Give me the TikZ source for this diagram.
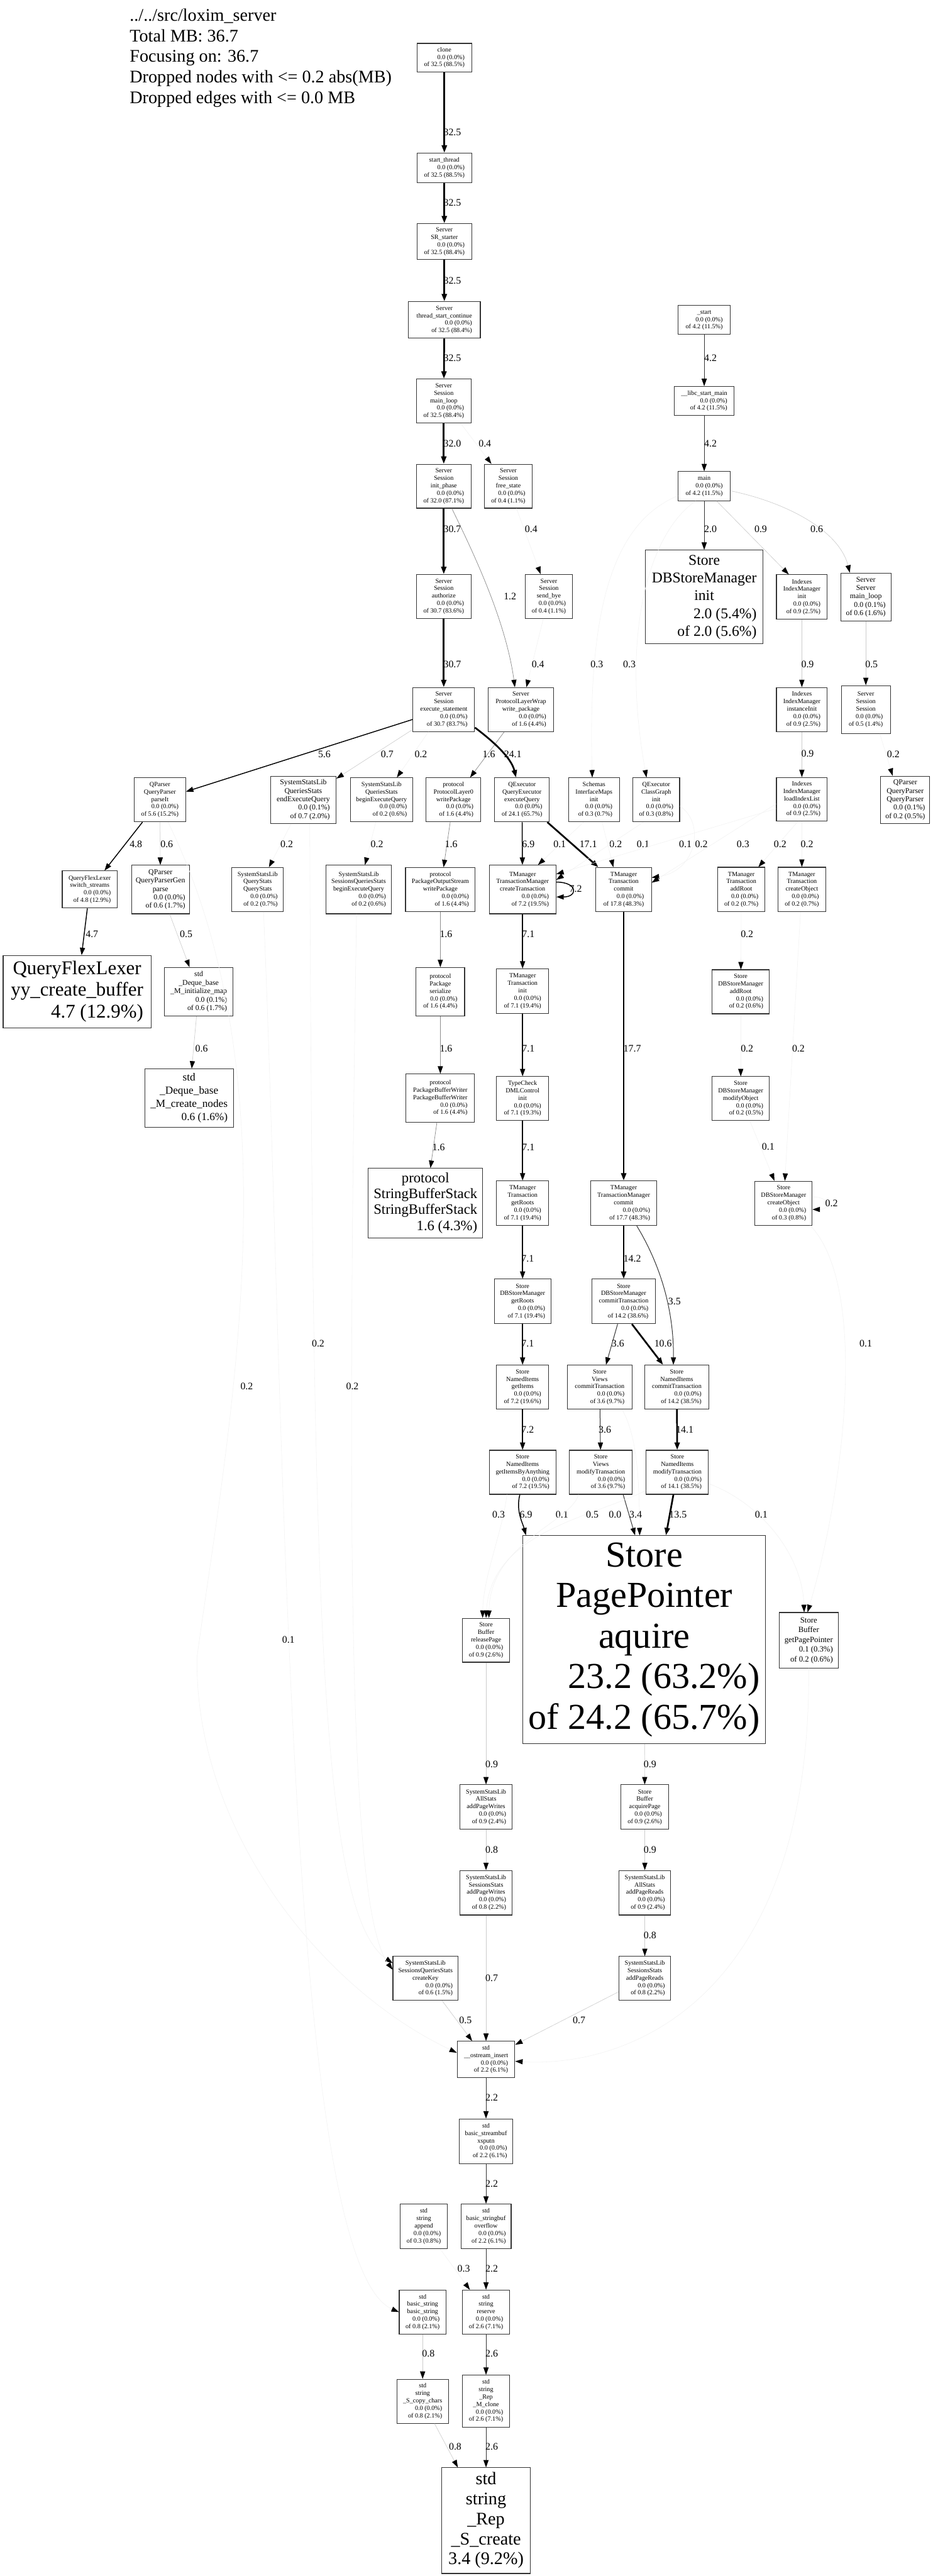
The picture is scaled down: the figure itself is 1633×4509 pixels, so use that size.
\documentclass[tikz,border=0pt]{standalone}
\usepackage{fontspec}
\setmainfont{Liberation Serif}
\usetikzlibrary{arrows.meta}

% call node: name lines, self, cumulative
\newcommand{\callnode}[3]{\begin{tabular}{@{}c@{}}#1\\\multicolumn{1}{@{}r@{}}{#2}\\\multicolumn{1}{@{}r@{}}{#3}\end{tabular}}
\newcommand{\leafnode}[2]{\begin{tabular}{@{}c@{}}#1\\\multicolumn{1}{@{}r@{}}{#2}\end{tabular}}

\begin{document}
\begin{tikzpicture}[x=1pt, y=-1pt,
  fn/.style 2 args={draw=black!80, line width=1.2pt, inner sep=0pt, minimum width=#1, minimum height=#2, font=\fontsize{11.2}{13}\selectfont},
  fm/.style={font=\fontsize{13}{14.7}\selectfont},
  elab/.style={inner sep=0pt, font=\fontsize{17.5}{20}\selectfont},
  arr/.style={-{Triangle[length=13pt,width=9pt,color=black]}},
  e1/.style={arr, line width=3pt, draw=black},
  e2/.style={arr, line width=1.6pt, draw=black},
  e3/.style={arr, line width=1.1pt, draw=black!80},
  e4/.style={arr, line width=0.8pt, draw=black!45},
  e5/.style={arr, line width=0.7pt, draw=black!20},
  e6/.style={arr, line width=0.6pt, draw=black!5}]
\useasboundingbox (0,0) rectangle (1633,4509);
\fill[white] (0,0) rectangle (1633,4509);

\node[anchor=north west, align=left, inner sep=0pt, font=\fontsize{31}{36}\selectfont] (title) at (227,15)
  {../../src/loxim\_server\\Total MB: 36.7\\Focusing on: 36.7\\Dropped nodes with <= 0.2 abs(MB)\\Dropped edges with <= 0.0 MB};

% server thread
\node[fn={96}{50}] (clone) at (778,101) {\callnode{clone}{0.0 (0.0\%)}{of 32.5 (88.5\%)}};
\node[fn={96}{52}] (startthr) at (778,294) {\callnode{start\_thread}{0.0 (0.0\%)}{of 32.5 (88.5\%)}};
\node[fn={96}{63}] (srstart) at (778,423) {\callnode{Server\\SR\_starter}{0.0 (0.0\%)}{of 32.5 (88.4\%)}};
\node[fn={126}{64}] (thrcont) at (778,560) {\callnode{Server\\thread\_start\_continue}{0.0 (0.0\%)}{of 32.5 (88.4\%)}};
\node[fn={96}{77}] (mainloop) at (777,702) {\callnode{Server\\Session\\main\_loop}{0.0 (0.0\%)}{of 32.5 (88.4\%)}};
\node[fn={96}{77}] (initph) at (777,851) {\callnode{Server\\Session\\init\_phase}{0.0 (0.0\%)}{of 32.0 (87.1\%)}};
\node[fn={83}{77}] (freest) at (890,851) {\callnode{Server\\Session\\free\_state}{0.0 (0.0\%)}{of 0.4 (1.1\%)}};
\node[fn={96}{77}] (authz) at (777,1044) {\callnode{Server\\Session\\authorize}{0.0 (0.0\%)}{of 30.7 (83.6\%)}};
\node[fn={82}{77}] (sendbye) at (961,1044) {\callnode{Server\\Session\\send\_bye}{0.0 (0.0\%)}{of 0.4 (1.1\%)}};
\node[fn={108}{77}] (execst) at (777,1242) {\callnode{Server\\Session\\execute\_statement}{0.0 (0.0\%)}{of 30.7 (83.7\%)}};
\node[fn={114}{77}] (wrpkg) at (912,1242) {\callnode{Server\\ProtocolLayerWrap\\write\_package}{0.0 (0.0\%)}{of 1.6 (4.4\%)}};

% main thread
\node[fn={91}{51}] (start) at (1233,560) {\callnode{\_start}{0.0 (0.0\%)}{of 4.2 (11.5\%)}};
\node[fn={104}{51}] (libcmain) at (1233,702) {\callnode{\_\_libc\_start\_main}{0.0 (0.0\%)}{of 4.2 (11.5\%)}};
\node[fn={91}{51}] (main) at (1233,851) {\callnode{main}{0.0 (0.0\%)}{of 4.2 (11.5\%)}};
\node[fn={206}{164}, font=\fontsize{26}{31}\selectfont] (dbinit) at (1233,1045) {\callnode{Store\\DBStoreManager\\init}{2.0 (5.4\%)}{of 2.0 (5.6\%)}};
\node[fn={89}{78}] (idxinit) at (1404,1045) {\callnode{Indexes\\IndexManager\\init}{0.0 (0.0\%)}{of 0.9 (2.5\%)}};
\node[fn={88}{84}, fm] (srvloop) at (1516,1045) {\callnode{Server\\Server\\main\_loop}{0.0 (0.1\%)}{of 0.6 (1.6\%)}};
\node[fn={89}{77}] (idxinst) at (1404,1242) {\callnode{Indexes\\IndexManager\\instanceInit}{0.0 (0.0\%)}{of 0.9 (2.5\%)}};
\node[fn={86}{84}] (sesssess) at (1516,1242) {\callnode{Server\\Session\\Session}{0.0 (0.0\%)}{of 0.5 (1.4\%)}};
\node[fn={89}{76}] (loadidx) at (1404,1399) {\callnode{Indexes\\IndexManager\\loadIndexList}{0.0 (0.0\%)}{of 0.9 (2.5\%)}};
\node[fn={86}{83}, fm] (qpctor) at (1585,1400) {\callnode{QParser\\QueryParser\\QueryParser}{0.0 (0.1\%)}{of 0.2 (0.5\%)}};

% statement execution
\node[fn={90}{77}] (parseit) at (280,1400) {\callnode{QParser\\QueryParser\\parseIt}{0.0 (0.0\%)}{of 5.6 (15.2\%)}};
\node[fn={115}{83}, fm] (endexec) at (531,1400) {\callnode{SystemStatsLib\\QueriesStats\\endExecuteQuery}{0.0 (0.1\%)}{of 0.7 (2.0\%)}};
\node[fn={109}{77}] (beginexec) at (668,1400) {\callnode{SystemStatsLib\\QueriesStats\\beginExecuteQuery}{0.0 (0.0\%)}{of 0.2 (0.6\%)}};
\node[fn={96}{77}] (pl0write) at (794,1400) {\callnode{protocol\\ProtocolLayer0\\writePackage}{0.0 (0.0\%)}{of 1.6 (4.4\%)}};
\node[fn={96}{77}] (execq) at (914,1400) {\callnode{QExecutor\\QueryExecutor\\executeQuery}{0.0 (0.0\%)}{of 24.1 (65.7\%)}};
\node[fn={89}{77}] (schinit) at (1040,1400) {\callnode{Schemas\\InterfaceMaps\\init}{0.0 (0.0\%)}{of 0.3 (0.7\%)}};
\node[fn={82}{77}] (cginit) at (1149,1400) {\callnode{QExecutor\\ClassGraph\\init}{0.0 (0.0\%)}{of 0.3 (0.8\%)}};

\node[fn={96}{65}] (switchst) at (157,1557) {\callnode{QueryFlexLexer\\switch\_streams}{0.0 (0.0\%)}{of 4.8 (12.9\%)}};
\node[fn={101}{85}, fm] (qpgparse) at (281,1557) {\callnode{QParser\\QueryParserGen\\parse}{0.0 (0.0\%)}{of 0.6 (1.7\%)}};
\node[fn={90}{77}] (qstats) at (451,1557) {\callnode{SystemStatsLib\\QueryStats\\QueryStats}{0.0 (0.0\%)}{of 0.2 (0.7\%)}};
\node[fn={115}{85}] (sqbegin) at (628,1557) {\callnode{SystemStatsLib\\SessionsQueriesStats\\beginExecuteQuery}{0.0 (0.0\%)}{of 0.2 (0.6\%)}};
\node[fn={122}{77}] (poswrite) at (771,1557) {\callnode{protocol\\PackageOutputStream\\writePackage}{0.0 (0.0\%)}{of 1.6 (4.4\%)}};
\node[fn={117}{85}] (createtr) at (915,1557) {\callnode{TManager\\TransactionManager\\createTransaction}{0.0 (0.0\%)}{of 7.2 (19.5\%)}};
\node[fn={97}{77}] (trcommit) at (1092,1557) {\callnode{TManager\\Transaction\\commit}{0.0 (0.0\%)}{of 17.8 (48.3\%)}};
\node[fn={83}{78}] (traddroot) at (1298,1557) {\callnode{TManager\\Transaction\\addRoot}{0.0 (0.0\%)}{of 0.2 (0.7\%)}};
\node[fn={83}{78}] (trcreateobj) at (1404,1557) {\callnode{TManager\\Transaction\\createObject}{0.0 (0.0\%)}{of 0.2 (0.7\%)}};

\node[fn={259}{127}, font=\fontsize{34}{38}\selectfont] (yybuf) at (135,1736) {\leafnode{QueryFlexLexer\\yy\_create\_buffer}{4.7 (12.9\%)}};
\node[fn={120}{85}, fm] (dqinit) at (348,1736) {\callnode{std\\\_Deque\_base\\\_M\_initialize\_map}{0.0 (0.1\%)}{of 0.6 (1.7\%)}};
\node[fn={85}{85}] (pkgser) at (771,1736) {\callnode{protocol\\Package\\serialize}{0.0 (0.0\%)}{of 1.6 (4.4\%)}};
\node[fn={91}{78}] (trinit) at (915,1735) {\callnode{TManager\\Transaction\\init}{0.0 (0.0\%)}{of 7.1 (19.4\%)}};
\node[fn={100}{77}] (dbaddroot) at (1297,1736) {\callnode{Store\\DBStoreManager\\addRoot}{0.0 (0.0\%)}{of 0.2 (0.6\%)}};

\node[fn={155}{102}, font=\fontsize{19}{23}\selectfont] (dqnodes) at (331,1922) {\leafnode{std\\\_Deque\_base\\\_M\_create\_nodes}{0.6 (1.6\%)}};
\node[fn={120}{84}] (pbwriter) at (771,1922) {\callnode{protocol\\PackageBufferWriter\\PackageBufferWriter}{0.0 (0.0\%)}{of 1.6 (4.4\%)}};
\node[fn={91}{77}] (dmlinit) at (915,1923) {\callnode{TypeCheck\\DMLControl\\init}{0.0 (0.0\%)}{of 7.1 (19.3\%)}};
\node[fn={100}{77}] (dbmodobj) at (1297,1923) {\callnode{Store\\DBStoreManager\\modifyObject}{0.0 (0.0\%)}{of 0.2 (0.5\%)}};

\node[fn={200}{122}, font=\fontsize{25}{28}\selectfont] (sbstack) at (745,2106) {\leafnode{protocol\\StringBufferStack\\StringBufferStack}{1.6 (4.3\%)}};
\node[fn={91}{78}] (trgetroots) at (915,2106) {\callnode{TManager\\Transaction\\getRoots}{0.0 (0.0\%)}{of 7.1 (19.4\%)}};
\node[fn={116}{78}] (tmcommit) at (1092,2106) {\callnode{TManager\\TransactionManager\\commit}{0.0 (0.0\%)}{of 17.7 (48.3\%)}};
\node[fn={100}{77}] (dbcreateobj) at (1372,2106) {\callnode{Store\\DBStoreManager\\createObject}{0.0 (0.0\%)}{of 0.3 (0.8\%)}};

% store layer
\node[fn={99}{78}] (dbgetroots) at (915,2278) {\callnode{Store\\DBStoreManager\\getRoots}{0.0 (0.0\%)}{of 7.1 (19.4\%)}};
\node[fn={112}{78}] (dbcommittr) at (1092,2278) {\callnode{Store\\DBStoreManager\\commitTransaction}{0.0 (0.0\%)}{of 14.2 (38.6\%)}};
\node[fn={91}{77}] (nigetitems) at (915,2428) {\callnode{Store\\NamedItems\\getItems}{0.0 (0.0\%)}{of 7.2 (19.6\%)}};
\node[fn={113}{77}] (vcommittr) at (1050,2428) {\callnode{Store\\Views\\commitTransaction}{0.0 (0.0\%)}{of 3.6 (9.7\%)}};
\node[fn={112}{77}] (nicommittr) at (1185,2428) {\callnode{Store\\NamedItems\\commitTransaction}{0.0 (0.0\%)}{of 14.2 (38.5\%)}};
\node[fn={117}{77}] (nigetany) at (915,2577) {\callnode{Store\\NamedItems\\getItemsByAnything}{0.0 (0.0\%)}{of 7.2 (19.5\%)}};
\node[fn={110}{77}] (vmodtr) at (1052,2577) {\callnode{Store\\Views\\modifyTransaction}{0.0 (0.0\%)}{of 3.6 (9.7\%)}};
\node[fn={109}{77}] (nimodtr) at (1186,2577) {\callnode{Store\\NamedItems\\modifyTransaction}{0.0 (0.0\%)}{of 14.1 (38.5\%)}};
\node[fn={425}{364}, font=\fontsize{64}{71}\selectfont] (ppacq) at (1128,2870) {\callnode{Store\\PagePointer\\aquire}{23.2 (63.2\%)}{of 24.2 (65.7\%)}};
\node[fn={83}{77}] (relpage) at (851,2871) {\callnode{Store\\Buffer\\releasePage}{0.0 (0.0\%)}{of 0.9 (2.6\%)}};
\node[fn={104}{97}, font=\fontsize{14}{17}\selectfont] (getpp) at (1416,2871) {\callnode{Store\\Buffer\\getPagePointer}{0.1 (0.3\%)}{of 0.2 (0.6\%)}};

% stats and strings
\node[fn={91}{78}] (aspw) at (851,3163) {\callnode{SystemStatsLib\\AllStats\\addPageWrites}{0.0 (0.0\%)}{of 0.9 (2.4\%)}};
\node[fn={83}{78}] (acqpage) at (1129,3163) {\callnode{Store\\Buffer\\acquirePage}{0.0 (0.0\%)}{of 0.9 (2.6\%)}};
\node[fn={91}{78}] (sspw) at (851,3313) {\callnode{SystemStatsLib\\SessionsStats\\addPageWrites}{0.0 (0.0\%)}{of 0.8 (2.2\%)}};
\node[fn={91}{78}] (aspr) at (1129,3313) {\callnode{SystemStatsLib\\AllStats\\addPageReads}{0.0 (0.0\%)}{of 0.9 (2.4\%)}};
\node[fn={114}{77}] (createkey) at (745,3463) {\callnode{SystemStatsLib\\SessionsQueriesStats\\createKey}{0.0 (0.0\%)}{of 0.6 (1.5\%)}};
\node[fn={91}{77}] (sspr) at (1129,3463) {\callnode{SystemStatsLib\\SessionsStats\\addPageReads}{0.0 (0.0\%)}{of 0.8 (2.2\%)}};
\node[fn={101}{64}] (ostrins) at (851,3605) {\callnode{std\\\_\_ostream\_insert}{0.0 (0.0\%)}{of 2.2 (6.1\%)}};
\node[fn={93}{78}] (xsputn) at (851,3748) {\callnode{std\\basic\_streambuf\\xsputn}{0.0 (0.0\%)}{of 2.2 (6.1\%)}};
\node[fn={83}{78}] (append) at (742,3897) {\callnode{std\\string\\append}{0.0 (0.0\%)}{of 0.3 (0.8\%)}};
\node[fn={88}{78}] (overflow) at (851,3897) {\callnode{std\\basic\_stringbuf\\overflow}{0.0 (0.0\%)}{of 2.2 (6.1\%)}};
\node[fn={82}{77}] (bsbs) at (740,4047) {\callnode{std\\basic\_string\\basic\_string}{0.0 (0.0\%)}{of 0.8 (2.1\%)}};
\node[fn={83}{77}] (reserve) at (851,4047) {\callnode{std\\string\\reserve}{0.0 (0.0\%)}{of 2.6 (7.1\%)}};
\node[fn={90}{77}] (copych) at (740,4203) {\callnode{std\\string\\\_S\_copy\_chars}{0.0 (0.0\%)}{of 0.8 (2.1\%)}};
\node[fn={83}{91}] (mclone) at (851,4203) {\callnode{std\\string\\\_Rep\\\_M\_clone}{0.0 (0.0\%)}{of 2.6 (7.1\%)}};
\node[fn={155}{185}, font=\fontsize{31}{35}\selectfont] (screate) at (851,4412) {\leafnode{std\\string\\\_Rep\\\_S\_create}{3.4 (9.2\%)}};

% edges, server thread
\draw[e1] (clone) -- (startthr) node[elab] at (792,232) {32.5};
\draw[e1] (startthr) -- (srstart) node[elab] at (792,355) {32.5};
\draw[e1] (srstart) -- (thrcont) node[elab] at (792,491) {32.5};
\draw[e1] (thrcont) -- (mainloop) node[elab] at (792,627) {32.5};
\draw[e1] (mainloop) -- (initph) node[elab] at (792,776) {32.0};
\draw[e6] (mainloop) -- (freest) node[elab] at (849,776) {0.4};
\draw[e1] (initph) -- (authz) node[elab] at (792,926) {30.7};
\draw[e6] (freest) -- (sendbye) node[elab] at (930,926) {0.4};
\draw[e4] (initph.-70) .. controls (820,950) and (885,1080) .. (wrpkg.105) node[elab] at (893,1044) {1.2};
\draw[e1] (authz) -- (execst) node[elab] at (792,1163) {30.7};
\draw[e6] (sendbye) -- (wrpkg) node[elab] at (942,1163) {0.4};

% edges, main thread
\draw[e3] (start) -- (libcmain) node[elab] at (1244,627) {4.2};
\draw[e3] (libcmain) -- (main) node[elab] at (1244,776) {4.2};
\draw[e3] (main) -- (dbinit) node[elab] at (1244,926) {2.0};
\draw[e5] (main.-50) -- ([xshift=-23pt]idxinit.north) node[elab] at (1332,926) {0.9};
\draw[e5] (main.-10) .. controls (1380,880) and (1470,930) .. ([xshift=-28pt]srvloop.north) node[elab] at (1430,926) {0.6};
\draw[e6] (main.200) .. controls (1060,920) and (1030,1100) .. ([xshift=-3pt]schinit.north) node[elab] at (1045,1163) {0.3};
\draw[e6] (main.240) .. controls (1140,930) and (1085,1100) .. ([xshift=-17pt]cginit.north) node[elab] at (1102,1163) {0.3};
\draw[e5] (idxinit) -- (idxinst) node[elab] at (1414,1163) {0.9};
\draw[e5] (srvloop) -- (sesssess) node[elab] at (1526,1163) {0.5};
\draw[e5] (idxinst) -- (loadidx) node[elab] at (1414,1319) {0.9};
\draw[e6] (sesssess.-60) -- ([xshift=-22pt]qpctor.north) node[elab] at (1564,1320) {0.2};

% edges, execute_statement
\draw[e2] (execst) -- (parseit) node[elab] at (568,1320) {5.6};
\draw[e5] (execst) -- (endexec) node[elab] at (678,1320) {0.7};
\draw[e6] (execst) -- (beginexec) node[elab] at (737,1320) {0.2};
\draw[e4] (wrpkg) -- (pl0write) node[elab] at (856,1320) {1.6};
\draw[e1] (execst.-30) .. controls (860,1295) and (895,1325) .. (execq.105) node[elab] at (898,1320) {24.1};
\draw[e2] (parseit) -- (switchst) node[elab] at (238,1478) {4.8};
\draw[e5] (parseit) -- (qpgparse) node[elab] at (292,1478) {0.6};
\draw[e6] (endexec) -- (qstats) node[elab] at (502,1478) {0.2};
\draw[e6] (beginexec) -- (sqbegin) node[elab] at (660,1478) {0.2};
\draw[e4] (pl0write) -- (poswrite) node[elab] at (790,1478) {1.6};
\draw[e2] (execq) -- (createtr) node[elab] at (925,1478) {6.9};
\draw[e6] (schinit.-115) -- ([xshift=27pt]createtr.north) node[elab] at (980,1478) {0.1};
\draw[e1] (execq) -- (trcommit) node[elab] at (1030,1478) {17.1};
\draw[e6] (schinit.-70) -- ([xshift=-18pt]trcommit.north) node[elab] at (1078,1478) {0.2};
\draw[e6] (cginit.-120) -- ([yshift=17pt]createtr.east) node[elab] at (1126,1478) {0.1};
\draw[e6] (cginit.-15) .. controls (1235,1440) and (1220,1525) .. ([yshift=21pt]trcommit.east) node[elab] at (1200,1478) {0.1};
\draw[e6] (loadidx.-170) -- ([yshift=12pt]trcommit.east) node[elab] at (1228,1478) {0.2};
\draw[e6] (loadidx.-160) -- ([yshift=27pt]createtr.east) node[elab] at (1301,1478) {0.3};
\draw[e6] (loadidx.-100) -- ([xshift=30pt]traddroot.north) node[elab] at (1366,1478) {0.2};
\draw[e6] (loadidx) -- (trcreateobj) node[elab] at (1413,1478) {0.2};

% edges, parser and protocol
\draw[e2] (switchst) -- (yybuf) node[elab] at (161,1635) {4.7};
\draw[e5] (qpgparse) -- (dqinit) node[elab] at (326,1635) {0.5};
\draw[e5] (dqinit) -- (dqnodes) node[elab] at (353,1835) {0.6};
\draw[e4] (poswrite) -- (pkgser) node[elab] at (781,1635) {1.6};
\draw[e4] (pkgser) -- (pbwriter) node[elab] at (781,1835) {1.6};
\draw[e4] (pbwriter) -- (sbstack) node[elab] at (768,2008) {1.6};

% edges, transactions
\draw[e2] ([yshift=13pt]createtr.east) .. controls +(38,0) and +(38,0) .. ([yshift=-13pt]createtr.east) node[elab] at (1008,1556) {7.2};
\draw[e2] (createtr) -- (trinit) node[elab] at (925,1635) {7.1};
\draw[e2] (trinit) -- (dmlinit) node[elab] at (925,1835) {7.1};
\draw[e2] (dmlinit) -- (trgetroots) node[elab] at (925,2008) {7.1};
\draw[e2] (trgetroots) -- (dbgetroots) node[elab] at (924,2203) {7.1};
\draw[e2] (dbgetroots) -- (nigetitems) node[elab] at (924,2352) {7.1};
\draw[e2] (nigetitems) -- (nigetany) node[elab] at (924,2503) {7.2};
\draw[e1] (trcommit) -- (tmcommit) node[elab] at (1107,1835) {17.7};
\draw[e1] (tmcommit) -- (dbcommittr) node[elab] at (1107,2203) {14.2};
\draw[e3] (tmcommit.-60) .. controls (1160,2220) and (1180,2300) .. ([xshift=-6pt]nicommittr.north) node[elab] at (1181,2278) {3.5};
\draw[e3] (dbcommittr.-105) -- ([xshift=11pt]vcommittr.north) node[elab] at (1082,2352) {3.6};
\draw[e1] (dbcommittr.-70) -- ([xshift=-24pt]nicommittr.north) node[elab] at (1161,2352) {10.6};
\draw[e3] (vcommittr) -- (vmodtr) node[elab] at (1059,2503) {3.6};
\draw[e1] (nicommittr) -- (nimodtr) node[elab] at (1199,2503) {14.1};
\draw[e6] (traddroot) -- (dbaddroot) node[elab] at (1308,1635) {0.2};
\draw[e6] (dbaddroot) -- (dbmodobj) node[elab] at (1308,1835) {0.2};
\draw[e6] (trcreateobj) -- (dbcreateobj) node[elab] at (1398,1835) {0.2};
\draw[e6] (dbmodobj) -- (dbcreateobj) node[elab] at (1345,2007) {0.1};
\draw[e6] ([yshift=11pt]dbcreateobj.east) .. controls +(32,0) and +(32,0) .. ([yshift=-11pt]dbcreateobj.east) node[elab] at (1456,2106) {0.2};

% edges into the page pointer
\draw[e2] (nigetany.-97) .. controls (903,2645) and (915,2665) .. ([xshift=6pt]ppacq.north west) node[elab] at (921,2651) {6.9};
\draw[e3] (vmodtr.-45) -- ([xshift=-16pt]ppacq.north) node[elab] at (1113,2651) {3.4};
\draw[e1] (nimodtr.-100) -- ([xshift=38pt]ppacq.north) node[elab] at (1187,2651) {13.5};
\draw[e6] (vcommittr.-45) .. controls (1120,2520) and (1119,2620) .. ([xshift=-8pt]ppacq.north) node[elab] at (1077,2651) {0.0};
\draw[e6] (nigetany.-125) .. controls (880,2680) and (846,2760) .. ([xshift=-6pt]relpage.north) node[elab] at (873,2651) {0.3};
\draw[e6] (nimodtr.-150) .. controls (1040,2655) and (860,2680) .. (relpage.north) node[elab] at (984,2651) {0.1};
\draw[e6] (vmodtr.-135) .. controls (1000,2665) and (858,2700) .. ([xshift=5pt]relpage.north) node[elab] at (1037,2651) {0.5};
\draw[e6] (nimodtr.-20) .. controls (1330,2630) and (1405,2720) .. ([xshift=-8pt]getpp.north) node[elab] at (1333,2651) {0.1};
\draw[e6] (dbcreateobj.-40) .. controls (1520,2250) and (1480,2600) .. ([xshift=-2pt]getpp.north) node[elab] at (1516,2352) {0.1};

% edges, buffers and stats
\draw[e5] (ppacq) -- (acqpage) node[elab] at (1138,3088) {0.9};
\draw[e5] (relpage) -- (aspw) node[elab] at (861,3088) {0.9};
\draw[e5] (aspw) -- (sspw) node[elab] at (861,3238) {0.8};
\draw[e5] (acqpage) -- (aspr) node[elab] at (1138,3238) {0.9};
\draw[e5] (aspr) -- (sspr) node[elab] at (1138,3388) {0.8};
\draw[e5] (sspw) -- (ostrins) node[elab] at (861,3462) {0.7};
\draw[e5] (createkey) -- (ostrins) node[elab] at (815,3536) {0.5};
\draw[e5] (sspr) -- (ostrins) node[elab] at (1014,3536) {0.7};
\draw[e6] (getpp.south) .. controls (1420,3500) and (1100,3620) .. ([yshift=-3pt]ostrins.east);

% long edges on the left
\draw[e6] (endexec.-75) .. controls (548,2800) and (560,3350) .. (createkey.155) node[elab] at (557,2352) {0.2};
\draw[e6] (sqbegin.-95) .. controls (605,2800) and (615,3350) .. (createkey.165) node[elab] at (617,2427) {0.2};
\draw[e6] (parseit.-70) .. controls (520,1900) and (400,2500) .. (345,2900) .. controls (340,3200) and (560,3480) .. ([yshift=12pt]ostrins.west) node[elab] at (432,2427) {0.2};
\draw[e6] (qstats.-75) .. controls (500,2500) and (500,3960) .. (bsbs.west) node[elab] at (505,2870) {0.1};

% edges, strings
\draw[e3] (ostrins) -- (xsputn) node[elab] at (861,3672) {2.2};
\draw[e3] (xsputn) -- (overflow) node[elab] at (861,3822) {2.2};
\draw[e3] (overflow) -- (reserve) node[elab] at (861,3971) {2.2};
\draw[e6] (append) -- (reserve) node[elab] at (812,3971) {0.3};
\draw[e3] (reserve) -- (mclone) node[elab] at (861,4120) {2.6};
\draw[e3] (mclone) -- (screate) node[elab] at (861,4283) {2.6};
\draw[e5] (bsbs) -- (copych) node[elab] at (750,4120) {0.8};
\draw[e5] (copych) -- (screate) node[elab] at (797,4283) {0.8};
\end{tikzpicture}
\end{document}
